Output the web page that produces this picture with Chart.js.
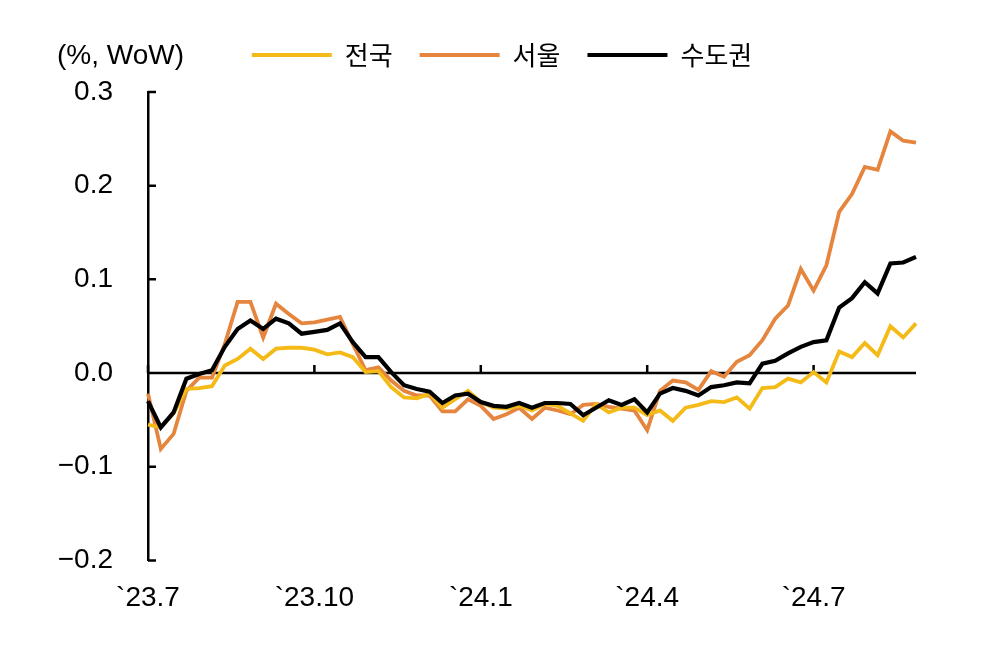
<!DOCTYPE html>
<html>
<head>
<meta charset="utf-8">
<script src="https://cdn.jsdelivr.net/npm/chart.js@4/dist/chart.umd.min.js"></script>
<style>
  html, body { margin: 0; padding: 0; background: #fff; }
  #wrap { position: relative; width: 991px; height: 666px; }
  #unit {
    position: absolute; left: 57px; top: 38px;
    font: 28px "Liberation Sans", "Noto Sans CJK KR", sans-serif;
    line-height: 34px; color: #000;
  }
</style>
</head>
<body>
<div id="wrap">
  <canvas id="chart"></canvas>
  <div id="unit">(%, WoW)</div>
</div>
<script>
// weekly change, '23.7 ~ '24.8 (61 weeks)
const quarterLabels = ['`23.7', '`23.10', '`24.1', '`24.4', '`24.7'];
const quarterWeeks = [0, 13, 26, 39, 52];

const nationwide = [
  -0.055, -0.058, -0.043, -0.017, -0.016, -0.014, 0.008, 0.015, 0.026, 0.015,
  0.026, 0.027, 0.027, 0.025, 0.020, 0.022, 0.017, 0.001, 0.002, -0.015,
  -0.026, -0.027, -0.022, -0.037, -0.028, -0.019, -0.031, -0.037, -0.038, -0.035,
  -0.040, -0.033, -0.035, -0.043, -0.051, -0.033, -0.042, -0.037, -0.037, -0.045,
  -0.040, -0.051, -0.037, -0.034, -0.030, -0.031, -0.026, -0.038, -0.016, -0.015,
  -0.006, -0.010, 0.001, -0.010, 0.023, 0.017, 0.032, 0.019, 0.050, 0.038,
  0.053
];
const seoul = [
  -0.022, -0.081, -0.065, -0.019, -0.005, -0.005, 0.031, 0.076, 0.076, 0.038,
  0.074, 0.063, 0.053, 0.054, 0.057, 0.060, 0.031, 0.003, 0.006, -0.008,
  -0.019, -0.024, -0.024, -0.041, -0.041, -0.028, -0.035, -0.049, -0.044, -0.037,
  -0.049, -0.037, -0.040, -0.044, -0.034, -0.033, -0.036, -0.038, -0.040, -0.061,
  -0.019, -0.008, -0.010, -0.018, 0.002, -0.004, 0.012, 0.019, 0.035, 0.058,
  0.072, 0.111, 0.088, 0.115, 0.172, 0.191, 0.220, 0.217, 0.258, 0.248,
  0.246
];
const capitalArea = [
  -0.030, -0.058, -0.042, -0.006, -0.001, 0.003, 0.028, 0.047, 0.056, 0.047,
  0.058, 0.053, 0.042, 0.044, 0.046, 0.053, 0.033, 0.017, 0.017, 0.001,
  -0.013, -0.017, -0.020, -0.032, -0.024, -0.022, -0.031, -0.035, -0.036, -0.032,
  -0.037, -0.032, -0.032, -0.033, -0.045, -0.037, -0.029, -0.034, -0.028, -0.042,
  -0.022, -0.016, -0.019, -0.024, -0.015, -0.013, -0.010, -0.011, 0.010, 0.013,
  0.021, 0.028, 0.033, 0.035, 0.070, 0.080, 0.097, 0.085, 0.117, 0.118,
  0.124
];

const labels = nationwide.map((v, i) => {
  const q = quarterWeeks.indexOf(i);
  return q >= 0 ? quarterLabels[q] : '';
});

const tickFont = { family: '"Liberation Sans", "Noto Sans CJK KR", sans-serif', size: 28 };

// zero line and inward tick marks
const axisMarks = {
  id: 'axisMarks',
  beforeDatasetsDraw(chart) {
    const { ctx, chartArea, scales: { x, y } } = chart;
    const y0 = y.getPixelForValue(0);
    ctx.save();
    ctx.strokeStyle = '#000';
    ctx.lineWidth = 2.5;
    ctx.beginPath();
    ctx.moveTo(chartArea.left, y0);
    ctx.lineTo(chartArea.right, y0);
    quarterWeeks.forEach(i => {
      const px = x.getPixelForValue(i);
      ctx.moveTo(px, y0);
      ctx.lineTo(px, y0 - 8);
    });
    y.ticks.forEach(t => {
      const py = y.getPixelForValue(t.value);
      ctx.moveTo(chartArea.left, py);
      ctx.lineTo(chartArea.left + 8, py);
    });
    ctx.stroke();
    ctx.restore();
  }
};

// centre the legend a bit right of the canvas middle, like the original
const legendShift = {
  id: 'legendShift',
  afterLayout(chart) {
    chart.legend.left = 88;
  }
};

new Chart(document.getElementById('chart'), {
  type: 'line',
  data: {
    labels,
    datasets: [
      { label: '전국', data: nationwide, borderColor: '#F4BA17', backgroundColor: '#F4BA17', borderWidth: 3.8, order: 1 },
      { label: '서울', data: seoul, borderColor: '#E5853E', backgroundColor: '#E5853E', borderWidth: 3.8, order: 2 },
      { label: '수도권', data: capitalArea, borderColor: '#000000', backgroundColor: '#000000', borderWidth: 4.2, order: 0 }
    ]
  },
  options: {
    responsive: true,
    maintainAspectRatio: false,
    animation: false,
    elements: { point: { radius: 0 }, line: { tension: 0 } },
    layout: { padding: { top: 15, bottom: 30, left: 0, right: 75 } },
    plugins: {
      legend: {
        position: 'top',
        labels: {
          usePointStyle: true,
          pointStyle: 'line',
          pointStyleWidth: 80,
          padding: 27,
          color: '#000',
          font: { family: '"Noto Sans CJK KR", sans-serif', size: 26 },
          sort: (a, b) => a.datasetIndex - b.datasetIndex
        }
      },
      // empty title used as a spacer between legend and plot
      title: {
        display: true,
        text: '',
        weight: 500,
        font: { size: 10, lineHeight: 1 },
        padding: 2
      },
      tooltip: { enabled: false }
    },
    scales: {
      x: {
        grid: { display: false, drawTicks: false },
        border: { display: false },
        ticks: { autoSkip: false, maxRotation: 0, padding: 21, color: '#000', font: tickFont }
      },
      y: {
        min: -0.2,
        max: 0.3,
        grid: { display: false, drawTicks: false },
        border: { display: true, color: '#000', width: 2.5 },
        afterFit: s => { s.width = 148; },
        ticks: {
          stepSize: 0.1,
          padding: 35,
          color: '#000',
          font: tickFont,
          callback: v => v.toFixed(1).replace('-', '\u2212')
        }
      }
    }
  },
  plugins: [axisMarks, legendShift]
});
</script>
</body>
</html>
